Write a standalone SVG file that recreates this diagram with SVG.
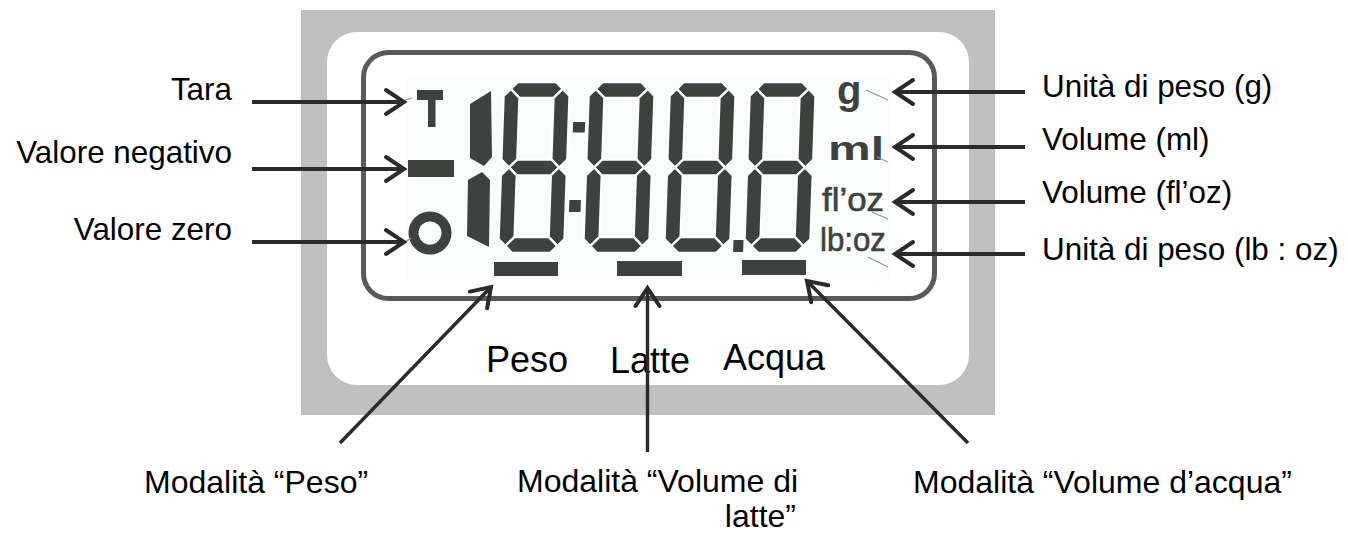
<svg xmlns="http://www.w3.org/2000/svg" xmlns:xlink="http://www.w3.org/1999/xlink" width="1348" height="533" viewBox="0 0 1348 533">
<style>
.lbl{font-family:"Liberation Sans",Arial,sans-serif;font-size:31.4px;fill:#000}
.bl{font-family:"Liberation Sans",Arial,sans-serif;font-size:32px;fill:#000}
.md{font-family:"Liberation Sans",Arial,sans-serif;font-size:36px;fill:#000}
.seg{fill:#3d423f;stroke:#fff;stroke-width:2.4;stroke-linejoin:miter}
.ink{fill:#3d423f}
.unit{font-family:"Liberation Sans",Arial,sans-serif;fill:#3d423f}
.lead{stroke:#8e9c9c;stroke-width:1.2;fill:none}
.arr{stroke:#2b2b2b;stroke-width:4;fill:none;marker-end:url(#ah)}
.arr2{stroke:#2b2b2b;stroke-width:3.4;fill:none;marker-end:url(#ah)}
</style>
<defs>
<marker id="ah" markerUnits="userSpaceOnUse" markerWidth="30" markerHeight="30" viewBox="-22 -15 26 30" refX="0" refY="0" orient="auto">
<path d="M-18,-12 L0,0 L-18,12" fill="none" stroke="#2b2b2b" stroke-width="4" stroke-linecap="round" stroke-linejoin="miter"/>
</marker>
<g id="eight">
<polygon class="seg" points="7,7 14,0 52,0 59,7 50,16 16,16"/>
<polygon class="seg" points="0,14 7,7 16,16 16,77.5 8,85.5 0,77.5"/>
<polygon class="seg" points="66,14 59,7 50,16 50,77.5 58,85.5 66,77.5"/>
<polygon class="seg" points="8,85.5 16,77.5 50,77.5 58,85.5 50,93.5 16,93.5"/>
<polygon class="seg" points="0,93.5 8,85.5 16,93.5 16,155 7,164 0,157"/>
<polygon class="seg" points="66,93.5 58,85.5 50,93.5 50,155 59,164 66,157"/>
<polygon class="seg" points="7,164 14,171 52,171 59,164 50,155 16,155"/>
</g>
</defs>

<g id="display">
<rect x="301" y="10" width="694" height="405" fill="#c0c0c0"/>
<rect x="327" y="32" width="642" height="353" rx="30" ry="30" fill="#fff"/>
<rect x="407" y="77" width="483" height="203" fill="#fbfcfc"/>
<rect x="363.5" y="52.5" width="571" height="246" rx="25" ry="25" fill="none" stroke="#5a5a5a" stroke-width="5"/>
</g>

<g id="lcd-symbols">
<rect class="ink" x="417" y="90" width="26" height="10"/>
<rect class="ink" x="428" y="99" width="7.5" height="28"/>
<rect class="ink" x="408" y="160" width="46" height="17"/>
<circle cx="430" cy="233" r="16.5" fill="none" stroke="#3d423f" stroke-width="10"/>
<polygon class="ink" points="470,104 491,91 492,157 484,166 470,158"/>
<polygon class="ink" points="468,180 482,172 490,180 489,247 467,236"/>
<g transform="translate(5.9,0) skewX(-2)">
<use xlink:href="#eight" transform="translate(501,82)"/>
<use xlink:href="#eight" transform="translate(586,82)"/>
<use xlink:href="#eight" transform="translate(667,82)"/>
<use xlink:href="#eight" transform="translate(747,82)"/>
<rect class="ink" x="571.5" y="122" width="12" height="10.5"/>
<rect class="ink" x="570.5" y="200" width="11.5" height="12"/>
<rect class="ink" x="736" y="240" width="10" height="12"/>
</g>
<rect class="ink" x="494" y="262" width="64" height="14"/>
<rect class="ink" x="617" y="261" width="65" height="15"/>
<rect class="ink" x="742" y="260" width="64" height="15"/>
<text class="unit" x="837" y="104" font-size="40" font-weight="bold">g</text>
<text class="unit" x="828" y="160" font-size="34" font-weight="bold" textLength="56" lengthAdjust="spacingAndGlyphs">ml</text>
<text class="unit" x="822" y="211" font-size="34" stroke="#3d423f" stroke-width="0.6" textLength="62" lengthAdjust="spacingAndGlyphs">fl’oz</text>
<text class="unit" x="820" y="251" font-size="34" stroke="#3d423f" stroke-width="0.6" textLength="66" lengthAdjust="spacingAndGlyphs">lb:oz</text>
<line class="lead" x1="866" y1="90" x2="888" y2="100"/>
<line class="lead" x1="877" y1="157" x2="888" y2="162"/>
<line class="lead" x1="872" y1="212" x2="888" y2="219"/>
<line class="lead" x1="868" y1="257" x2="888" y2="267"/>
<line class="lead" x1="405" y1="100" x2="412" y2="98"/>
<line class="lead" x1="405" y1="242" x2="411" y2="238"/>
</g>

<g id="mode-labels">
<text class="md" x="486" y="372">Peso</text>
<text class="md" x="610" y="373">Latte</text>
<text class="md" x="723" y="370">Acqua</text>
</g>

<g id="left-labels">
<text class="lbl" x="232" y="100" text-anchor="end">Tara</text>
<text class="lbl" x="232" y="163" text-anchor="end">Valore negativo</text>
<text class="lbl" x="232" y="240" text-anchor="end">Valore zero</text>
</g>

<g id="right-labels">
<text class="lbl" x="1042" y="97">Unità di peso (g)</text>
<text class="lbl" x="1042" y="150">Volume (ml)</text>
<text class="lbl" x="1042" y="203">Volume (fl’oz)</text>
<text class="lbl" x="1042" y="260">Unità di peso (lb : oz)</text>
</g>

<g id="bottom-labels">
<text class="bl" x="144" y="493">Modalità “Peso”</text>
<text class="bl" x="517" y="491.5" font-size="31.6">Modalità “Volume di</text>
<text class="bl" x="796" y="526.5" font-size="31.6" text-anchor="end">latte”</text>
<text class="bl" x="913" y="493">Modalità “Volume d’acqua”</text>
</g>

<g id="connectors">
<line class="arr" x1="252" y1="102" x2="404" y2="102"/>
<line class="arr" x1="252" y1="169" x2="404" y2="169"/>
<line class="arr" x1="252" y1="242" x2="404" y2="242"/>
<line class="arr" x1="1025" y1="92" x2="895" y2="92"/>
<line class="arr" x1="1025" y1="147" x2="895" y2="147"/>
<line class="arr" x1="1025" y1="202" x2="895" y2="202"/>
<line class="arr" x1="1025" y1="254" x2="895" y2="254"/>
<line class="arr2" x1="340" y1="443" x2="491" y2="287"/>
<line class="arr2" x1="647.5" y1="452" x2="647.5" y2="288"/>
<line class="arr2" x1="968" y1="443" x2="807" y2="281"/>
</g>
</svg>
